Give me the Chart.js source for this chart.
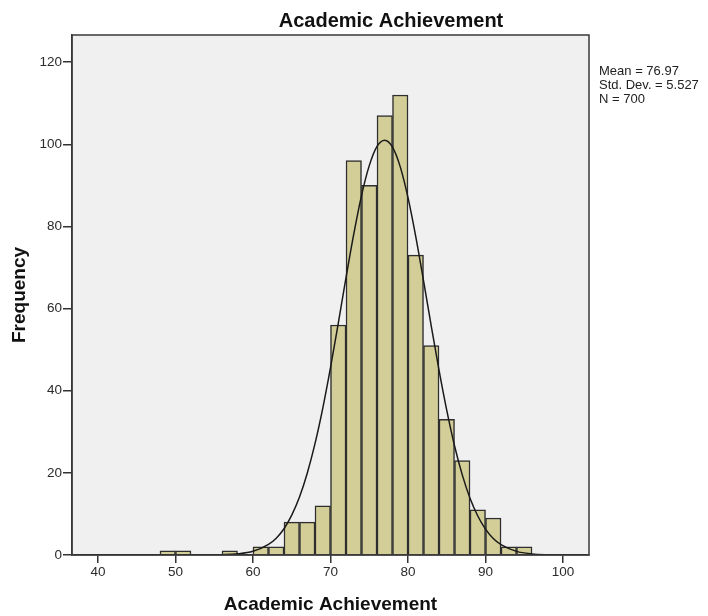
<!DOCTYPE html>
<html>
<head>
<meta charset="utf-8">
<script src="https://cdn.jsdelivr.net/npm/chart.js@4"></script>
<style>
  html, body { margin: 0; padding: 0; background: #fff; }
  #wrap { width: 708px; height: 616px; }
</style>
</head>
<body>
<div id="wrap"><canvas id="histChart" width="708" height="616"></canvas></div>
<script>
// histogram bins (lower edge, width 2)
const binStart = [48, 50, 56, 60, 62, 64, 66, 68, 70, 72, 74, 76, 78, 80, 82, 84, 86, 88, 90, 92, 94];
const binCount = [1, 1, 1, 2, 2, 8, 8, 12, 56, 96, 90, 107, 112, 73, 51, 33, 23, 11, 9, 2, 2];
const binWidth = 2;

// normal curve
const curveX = [37, 50, 54, 56, 58, 60, 62, 63, 64, 65, 66, 67, 68, 69, 70, 71, 72, 73, 74, 75, 76, 77,
                78, 79, 80, 81, 82, 83, 84, 85, 86, 87, 88, 89, 90, 91, 92, 94, 96, 98, 100, 103];
const curveY = [0, 0, 0.02, 0.08, 0.28, 0.91, 2.6, 4.1, 6.4, 9.7, 14.1, 19.9, 27.1, 35.7, 45.6, 56.4, 67.5, 78.1, 87.5, 94.8, 99.5, 101.0,
                99.3, 94.5, 87.0, 77.5, 66.8, 55.7, 45.0, 35.2, 26.6, 19.5, 13.8, 9.5, 6.3, 4.0, 2.5, 0.88, 0.27, 0.07, 0.02, 0];

const xTicks = [40, 50, 60, 70, 80, 90, 100];
const yTicks = [0, 20, 40, 60, 80, 100, 120];

const chartTitle = 'Academic Achievement';
const xTitle = 'Academic Achievement';
const yTitle = 'Frequency';
const statLines = ['Mean = 76.97', 'Std. Dev. = 5.527', 'N = 700'];

const FONT = '"Liberation Sans", Arial, sans-serif';

// background, frame and texts
const decorPlugin = {
    id: 'decor',
    beforeDraw(chart) {
        const { ctx, chartArea: a } = chart;
        ctx.save();
        ctx.fillStyle = '#ffffff';
        ctx.fillRect(0, 0, chart.width, chart.height);
        ctx.fillStyle = '#f0f0f0';
        ctx.fillRect(a.left, a.top, a.right - a.left, a.bottom - a.top);
        ctx.restore();
    },
    afterDraw(chart) {
        const { ctx, chartArea: a } = chart;
        ctx.save();
        ctx.strokeStyle = '#3a3a3a';
        ctx.lineWidth = 1.5;
        ctx.strokeRect(a.left, a.top, a.right - a.left, a.bottom - a.top);

        ctx.fillStyle = '#111';
        ctx.textAlign = 'center';
        ctx.textBaseline = 'alphabetic';
        ctx.font = 'bold 20px ' + FONT;
        ctx.fillText(chartTitle, 391, 27);

        ctx.font = 'bold 19px ' + FONT;
        ctx.fillText(xTitle, (a.left + a.right) / 2, 610);

        ctx.save();
        ctx.translate(24.5, (a.top + a.bottom) / 2);
        ctx.rotate(-Math.PI / 2);
        ctx.fillText(yTitle, 0, 0);
        ctx.restore();

        ctx.textAlign = 'left';
        ctx.font = '13px ' + FONT;
        ctx.fillStyle = '#222';
        statLines.forEach((s, i) => {
            ctx.fillText(s, 599, 75 + i * 14);
        });
        ctx.restore();
    }
};

const ctx = document.getElementById('histChart').getContext('2d');
new Chart(ctx, {
    type: 'bar',
    data: {
        datasets: [{
            type: 'bar',
            label: 'Frequency',
            data: binStart.map((b, i) => ({ x: b + binWidth / 2, y: binCount[i] })),
            backgroundColor: '#d3ce97',
            borderColor: '#2e2e2e',
            borderWidth: 1.5,
            categoryPercentage: 1,
            barPercentage: 1,
            order: 1
        }, {
            type: 'line',
            label: 'Normal',
            data: curveX.map((x, i) => ({ x: x, y: curveY[i] })),
            borderColor: '#1a1a1a',
            borderWidth: 1.5,
            pointRadius: 0,
            cubicInterpolationMode: 'monotone',
            fill: false,
            order: 0
        }]
    },
    options: {
        responsive: false,
        animation: false,
        layout: { padding: { left: 0, top: 35, right: 119, bottom: 0 } },
        plugins: {
            legend: { display: false },
            title: { display: false },
            tooltip: { enabled: false }
        },
        scales: {
            x: {
                type: 'linear',
                min: 36.65,
                max: 103.35,
                offset: false,
                afterBuildTicks: s => { s.ticks = xTicks.map(v => ({ value: v })); },
                afterFit: s => { s.height = 61; },
                grid: { display: true, offset: false, drawOnChartArea: false, drawTicks: true, tickLength: 8, color: '#333', lineWidth: 1.5 },
                border: { display: true, color: '#333', width: 1.5 },
                ticks: { color: '#2b2b2b', font: { family: FONT, size: 13.5 }, padding: 1, maxRotation: 0, autoSkip: false }
            },
            y: {
                min: 0,
                max: 126.6,
                afterBuildTicks: s => { s.ticks = yTicks.map(v => ({ value: v })); },
                afterFit: s => { s.width = 72; },
                grid: { display: true, drawOnChartArea: false, drawTicks: true, tickLength: 9, color: '#333', lineWidth: 1.5 },
                border: { display: true, color: '#333', width: 1.5 },
                ticks: { color: '#2b2b2b', font: { family: FONT, size: 13.5 }, padding: 1 }
            }
        }
    },
    plugins: [decorPlugin]
});
</script>
</body>
</html>
